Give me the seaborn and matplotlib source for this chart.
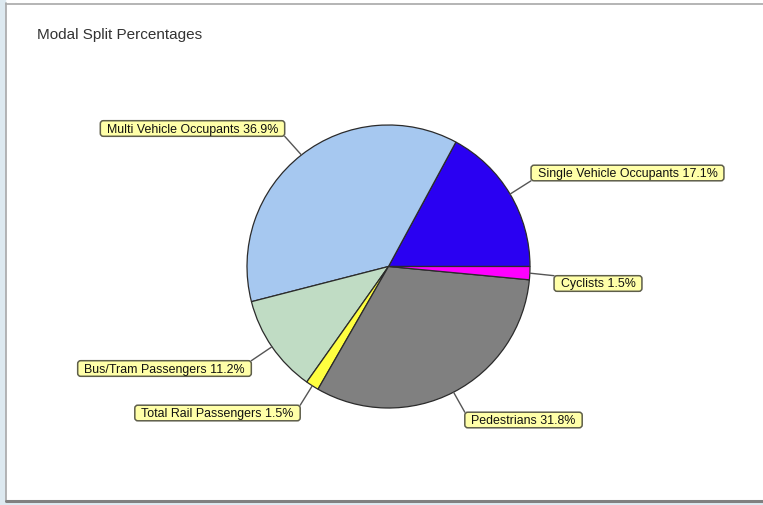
import numpy as np
import matplotlib
matplotlib.use("Agg")
import matplotlib.pyplot as plt
from matplotlib.patches import Rectangle, FancyBboxPatch
import seaborn as sns

# ---- data ----
categories = ["Single Vehicle Occupants", "Multi Vehicle Occupants", "Bus/Tram Passengers",
              "Total Rail Passengers", "Pedestrians", "Cyclists"]
percentages = [17.1, 36.9, 11.2, 1.5, 31.8, 1.5]
title = "Modal Split Percentages"

# ---- style / layout ----
colors = ["#2a00f2", "#a6c8f0", "#c0dcc4", "#ffff40", "#808080", "#ff00ff"]
# label box centres in pixel coords (x from left, y from top)
label_pos = [(627.5, 174), (192.5, 129.5), (164.5, 369.5), (217.5, 414), (523.5, 421), (598, 284.5)]

sns.set_style("white")
plt.rcParams["font.family"] = ["Liberation Sans", "DejaVu Sans"]

W, H = 763, 506
fig = plt.figure(figsize=(W / 100, H / 100), dpi=100)
fig.patch.set_facecolor("white")
ax = fig.add_axes([0, 0, 1, 1])

cx, cy, r = 388.5, H - 267.5, 141.5
wedges, _ = ax.pie(percentages, colors=colors, startangle=0, counterclock=True,
                   radius=r, center=(cx, cy),
                   wedgeprops=dict(edgecolor="#2b2b2b", linewidth=0.9))

ax.set_xlim(0, W)
ax.set_ylim(0, H)
ax.set_aspect("auto")
ax.axis("off")

texts = []
for cat, pct, (lx, ly) in zip(categories, percentages, label_pos):
    t = ax.text(lx, H - ly, f"{cat} {pct:.1f}%", ha="center", va="center",
                fontsize=8.9, color="#111111", zorder=5)
    texts.append(t)

fig.canvas.draw()
renderer = fig.canvas.get_renderer()
inv = ax.transData.inverted()
px, py = 6.5, 1.8
for w, t in zip(wedges, texts):
    bb = t.get_window_extent(renderer)
    (x0, y0), (x1, y1) = inv.transform([(bb.x0, bb.y0), (bb.x1, bb.y1)])
    bx0, by0, bx1, by1 = x0 - px, y0 - py, x1 + px, y1 + py
    box = FancyBboxPatch((bx0, by0), bx1 - bx0, by1 - by0,
                         boxstyle="round,pad=0,rounding_size=3",
                         fc="#ffffa8", ec="#5e5e4a", lw=1.1, zorder=4)
    ax.add_patch(box)
    mid = np.deg2rad((w.theta1 + w.theta2) / 2)
    ex, ey = cx + r * np.cos(mid), cy + r * np.sin(mid)
    corners = [(bx0, by0), (bx0, by1), (bx1, by0), (bx1, by1)]
    ax_, ay_ = min(corners, key=lambda c: (c[0] - ex) ** 2 + (c[1] - ey) ** 2)
    ax.plot([ex, ax_], [ey, ay_], color="#555555", lw=1.0, zorder=3)

# frame like the screenshot
ax.add_patch(Rectangle((0, 0), 5, H, color="#dde9f0", zorder=0))
ax.add_patch(Rectangle((0, 0), W, 4, color="#dde9f0", zorder=0))
ax.plot([6, 6], [4, H - 4], color="#a8a8a8", lw=1.2)
ax.plot([6, W], [H - 4.5, H - 4.5], color="#a8a8a8", lw=1.2)
ax.plot([6, W], [4.5, 4.5], color="#808080", lw=2.2)

ax.text(37, H - 35, title, ha="left", va="center", fontsize=11, color="#333333")

ax.set_xlim(0, W)
ax.set_ylim(0, H)

fig.savefig("out.png", dpi=100)
